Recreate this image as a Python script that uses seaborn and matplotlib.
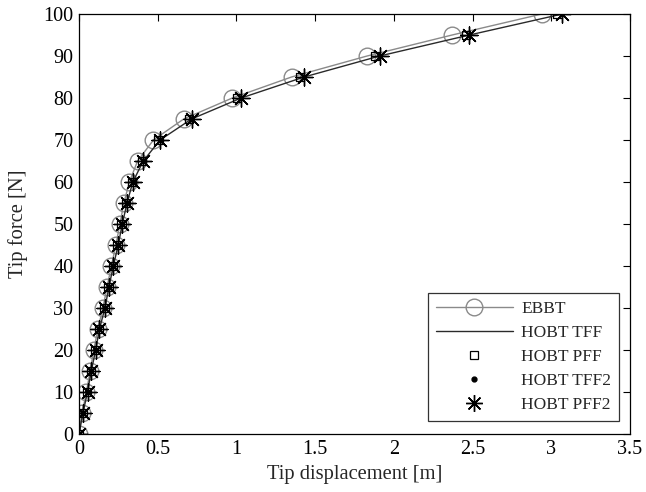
import numpy as np
import pandas as pd
import matplotlib
matplotlib.use("Agg")
import matplotlib.pyplot as plt
import seaborn as sns
from matplotlib.lines import Line2D

force = [0, 5, 10, 15, 20, 25, 30, 35, 40, 45, 50, 55, 60, 65, 70, 75, 80, 85, 90, 95, 100]
ebbt = [0, 0.02, 0.047, 0.071, 0.094, 0.12, 0.152, 0.178, 0.206, 0.234, 0.26,
        0.285, 0.32, 0.372, 0.473, 0.665, 0.974, 1.35, 1.83, 2.37, 2.94]
hobt_tff = [0, 0.025, 0.054, 0.078, 0.106, 0.13, 0.165, 0.19, 0.218, 0.249, 0.275,
            0.305, 0.342, 0.408, 0.515, 0.715, 1.03, 1.43, 1.91, 2.48, 3.07]
hobt_pff = [0, 0.024, 0.052, 0.076, 0.104, 0.127, 0.162, 0.187, 0.214, 0.245, 0.27,
            0.3, 0.336, 0.4, 0.505, 0.70, 1.005, 1.405, 1.88, 2.46, 3.04]
hobt_tff2 = [0, 0.025, 0.054, 0.078, 0.106, 0.13, 0.165, 0.19, 0.218, 0.249, 0.275,
             0.305, 0.342, 0.408, 0.515, 0.715, 1.03, 1.43, 1.91, 2.48, 3.07]
hobt_pff2 = [0, 0.025, 0.054, 0.078, 0.106, 0.13, 0.165, 0.19, 0.218, 0.249, 0.275,
             0.305, 0.342, 0.408, 0.515, 0.715, 1.03, 1.43, 1.91, 2.48, 3.07]

x_ticks = [0, 0.5, 1, 1.5, 2, 2.5, 3, 3.5]
x_ticklabels = ["0", "0.5", "1", "1.5", "2", "2.5", "3", "3.5"]
y_ticks = [0, 10, 20, 30, 40, 50, 60, 70, 80, 90, 100]

sns.set_style("white")
plt.rcParams['font.family'] = ['Liberation Serif', 'DejaVu Serif']
plt.rcParams['xtick.direction'] = 'in'
plt.rcParams['ytick.direction'] = 'in'

fig = plt.figure(figsize=(6.46, 4.92), dpi=100)
ax = fig.add_axes([79/646, 1-434/492, (630-79)/646, (434-14)/492])

grey = '#8a8a8a'
dark = '#2a2a2a'

sns.lineplot(x=ebbt, y=force, sort=False, ax=ax, color=grey, lw=1.0,
             marker='o', markersize=12, markerfacecolor='none',
             markeredgecolor=grey, markeredgewidth=1.0, estimator=None)
sns.lineplot(x=hobt_tff, y=force, sort=False, ax=ax, color=dark, lw=1.0, estimator=None)
sns.scatterplot(x=hobt_pff, y=force, ax=ax, marker='s', s=36, facecolor='none',
                edgecolor='black', linewidth=0.9, zorder=4)
sns.scatterplot(x=hobt_tff2, y=force, ax=ax, marker='o', s=14, color='black',
                edgecolor='none', zorder=5)
sns.scatterplot(x=hobt_pff2, y=force, ax=ax, marker=(8, 2, 0), s=150, color='black',
                edgecolor='black', linewidth=1.0, zorder=6)

ax.set_xlim(0, 3.5)
ax.set_ylim(0, 100)
ax.set_xticks(x_ticks)
ax.set_xticklabels(x_ticklabels)
ax.set_yticks(y_ticks)
ax.tick_params(axis='both', which='both', direction='in', length=5, width=0.8,
               top=True, right=True, labelsize=14.5, colors='black', pad=4)
for s in ax.spines.values():
    s.set_visible(True)
    s.set_color('black')
    s.set_linewidth(0.9)
ax.set_xlabel("Tip displacement [m]", fontsize=14.8, labelpad=5)
ax.set_ylabel("Tip force [N]", fontsize=14.8, labelpad=11)

handles = [
    Line2D([], [], color=grey, lw=1.0, marker='o', markersize=12, markerfacecolor='none',
           markeredgecolor=grey),
    Line2D([], [], color=dark, lw=1.0),
    Line2D([], [], ls='none', marker='s', markersize=6, markerfacecolor='none',
           markeredgecolor='black', markeredgewidth=0.9),
    Line2D([], [], ls='none', marker='o', markersize=3.5, color='black'),
    Line2D([], [], ls='none', marker=(8, 2, 0), markersize=12, color='black',
           markeredgewidth=1.0),
]
labels = ["EBBT", "HOBT TFF", "HOBT PFF", "HOBT TFF2", "HOBT PFF2"]
leg = ax.legend(handles, labels, loc='lower right', bbox_to_anchor=(619/646, 1-421/492),
                bbox_transform=fig.transFigure, frameon=True, fancybox=False,
                edgecolor='black', fontsize=12.5, handlelength=4.4, handletextpad=0.5,
                borderpad=0.45, labelspacing=0.45, borderaxespad=0)
leg.get_frame().set_linewidth(0.9)

fig.savefig("out.png", dpi=100, facecolor='white')
